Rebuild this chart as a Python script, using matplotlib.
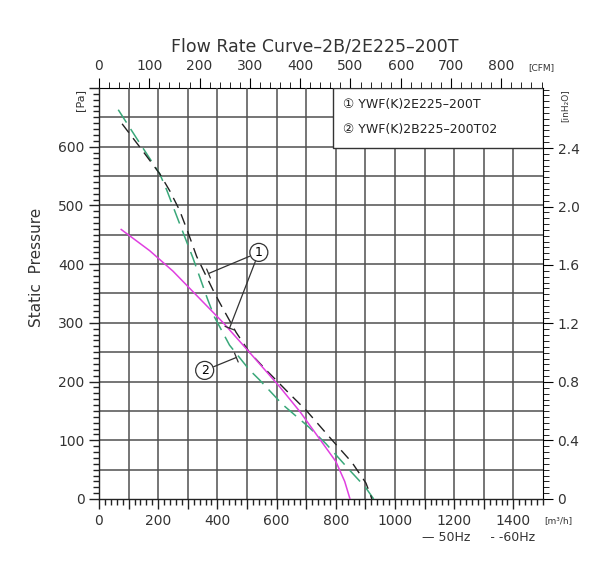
import matplotlib.pyplot as plt
import numpy as np
from matplotlib.ticker import MultipleLocator

plt.rcParams['font.family'] = ['DejaVu Sans', 'Noto Sans CJK SC']

# curve data, flow in m3/h, pressure in Pa
green_q = [65, 130, 205, 229, 270, 317, 367, 390, 441, 508, 542, 620, 710, 767, 845, 900, 928]
green_p = [663, 612, 554, 526, 472, 411, 340, 310, 262, 220, 203, 161, 122, 94, 50, 20, 0]

black_q = [78, 140, 205, 240, 272, 300, 330, 384, 407, 463, 508, 564, 609, 650, 700, 788, 855, 902, 922]
black_p = [639, 598, 554, 524, 492, 455, 413, 357, 335, 284, 250, 220, 197, 176, 151, 100, 62, 27, 0]

magenta_q = [75, 171, 250, 306, 420, 508, 609, 680, 740, 800, 830, 848]
magenta_p = [459, 423, 388, 359, 300, 250, 192, 148, 106, 64, 30, 0]

legend_lines = ['YWF(K)2E225\u2013200T', 'YWF(K)2B225\u2013200T02']

fig = plt.figure(figsize=(6.13, 5.63), dpi=100)
ax = fig.add_axes([0.1615, 0.1137, 0.7243, 0.73])

ax.set_xlim(0, 1500)
ax.set_ylim(0, 700)

# grid
for q in range(100, 1500, 100):
    ax.axvline(q, color='#505050', lw=1.1, zorder=1)
for p in range(50, 700, 50):
    ax.axhline(p, color='#505050', lw=1.1, zorder=1)

ax.plot(green_q, green_p, color='#3aa87a', lw=1.1, dashes=(10, 5), zorder=3)
ax.plot(black_q, black_p, color='#222222', lw=1.0, dashes=(8, 5), zorder=3)
ax.plot(magenta_q, magenta_p, color='#e040e0', lw=1.1, zorder=4)

# bottom / left axes
ax.xaxis.set_minor_locator(MultipleLocator(20))
ax.set_xticks(range(0, 1500, 100))
ax.set_xticklabels([str(v) if v % 200 == 0 else '' for v in range(0, 1500, 100)])
ax.yaxis.set_minor_locator(MultipleLocator(10))
ax.set_yticks(range(0, 701, 100))
ax.set_yticklabels([str(v) if v < 700 else '' for v in range(0, 701, 100)])
ax.tick_params(which='major', length=7, width=1, labelsize=10, colors='#222222', labelcolor='#333333')
ax.tick_params(which='minor', length=4, width=1, colors='#222222')
for s in ax.spines.values():
    s.set_linewidth(1.0)
    s.set_color('#222222')
ax.spines['top'].set_visible(False)
ax.spines['right'].set_visible(False)

# top axis in CFM
top = ax.secondary_xaxis('top', functions=(lambda q: q / 1.699, lambda c: c * 1.699))
top.set_xticks(range(0, 900, 100))
top.xaxis.set_minor_locator(MultipleLocator(20))
top.tick_params(which='major', length=7, labelsize=10, labelcolor='#333333')
top.tick_params(which='minor', length=4)

# right axis in inH2O
right = ax.secondary_yaxis('right', functions=(lambda p: p / 249.08, lambda h: h * 249.08))
right.set_yticks([0, 0.4, 0.8, 1.2, 1.6, 2.0, 2.4])
right.set_yticklabels(['0', '0.4', '0.8', '1.2', '1.6', '2.0', '2.4'])
right.yaxis.set_minor_locator(MultipleLocator(0.04))
right.tick_params(which='major', length=7, labelsize=10, labelcolor='#333333')
right.tick_params(which='minor', length=4)

# legend box
ax.add_patch(plt.Rectangle((790, 597), 710, 103, facecolor='white', edgecolor='#333333',
                           lw=1.0, zorder=5))
ax.text(825, 672, '\u2460 ' + legend_lines[0], fontsize=9, color='#222222', va='center', zorder=6)
ax.text(825, 629, '\u2461 ' + legend_lines[1], fontsize=9, color='#222222', va='center', zorder=6)

# leader lines
lead = dict(arrowstyle='-[, widthB=0.35, lengthB=0', color='#333333', lw=0.9, shrinkA=7, shrinkB=0)
ax.annotate('', xy=(370, 384), xytext=(540, 420), arrowprops=lead, zorder=6)
ax.annotate('', xy=(441, 291), xytext=(540, 420), arrowprops=lead, zorder=6)
ax.text(540, 420, '1', fontsize=9, ha='center', va='center', zorder=7,
        bbox=dict(boxstyle='circle,pad=0.2', fc='white', ec='#333333', lw=0.9))
ax.annotate('', xy=(464, 241), xytext=(357, 219), arrowprops=lead, zorder=6)
ax.text(357, 219, '2', fontsize=9, ha='center', va='center', zorder=7,
        bbox=dict(boxstyle='circle,pad=0.2', fc='white', ec='#333333', lw=0.9))

# titles and unit labels
fig.text(0.514, 0.917, 'Flow Rate Curve\u20132B/2E225\u2013200T', fontsize=12.5,
         ha='center', va='center', color='#333333')
fig.text(0.06, 0.525, 'Static  Pressure', fontsize=11, rotation=90,
         ha='center', va='center', color='#333333')
fig.text(0.131, 0.822, '[Pa]', fontsize=8, rotation=90, ha='center', va='center', color='#333333')
fig.text(0.922, 0.813, '[inH\u2082O]', fontsize=6.5, rotation=90, ha='center', va='center', color='#333333')
fig.text(0.883, 0.879, '[CFM]', fontsize=6.5, ha='center', va='center', color='#333333')
fig.text(0.91, 0.076, '[m\u00b3/h]', fontsize=6.5, ha='center', va='center', color='#333333')
fig.text(0.78, 0.046, '\u2014 50Hz     - -60Hz', fontsize=9, ha='center', va='center', color='#333333')

fig.savefig('out.png', dpi=100)
